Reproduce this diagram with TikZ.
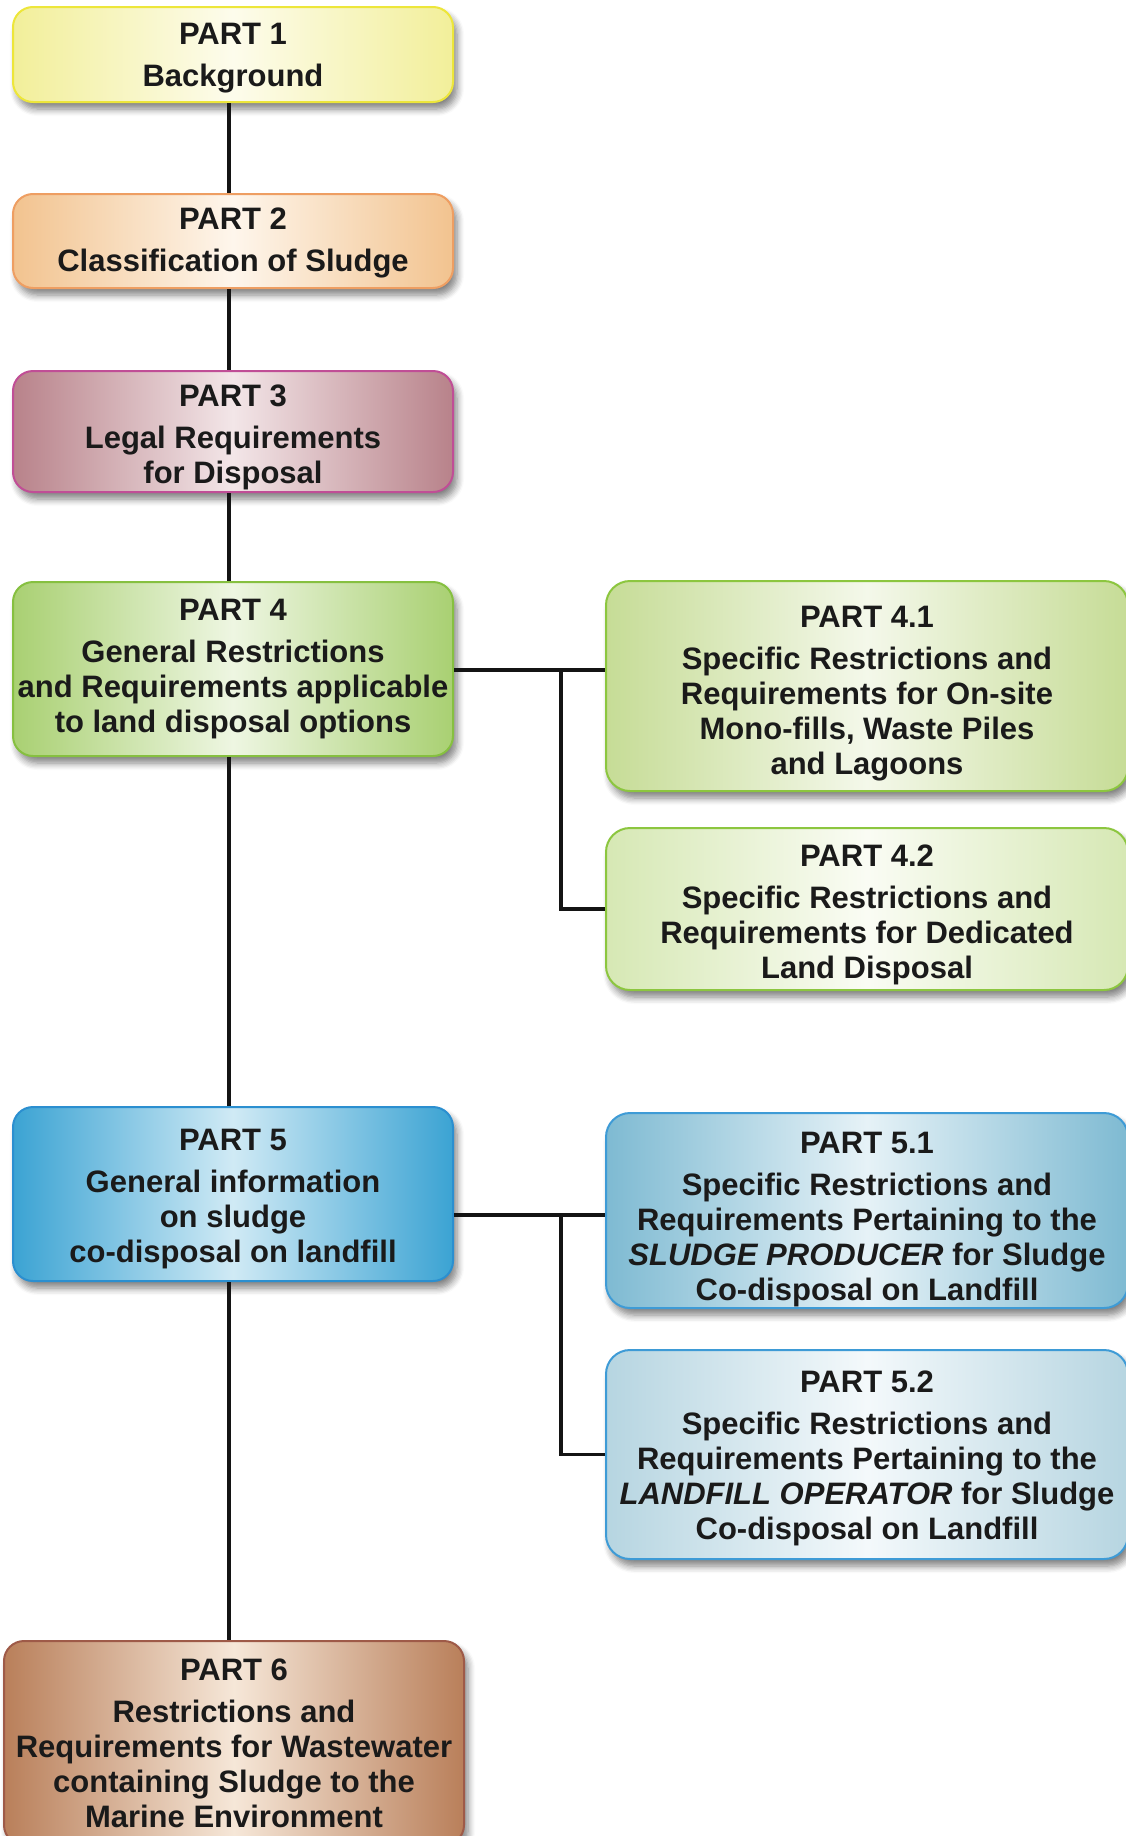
\documentclass[tikz,border=0pt]{standalone}
\usepackage{fontspec}
\setmainfont{Liberation Sans}
\usetikzlibrary{shadows.blur,calc}
\definecolor{txt}{HTML}{1A1A1A}
\definecolor{c1o}{HTML}{F2EF9A}\definecolor{c1m}{HTML}{FDFCEC}\definecolor{c1b}{HTML}{EDE63A}
\definecolor{c2o}{HTML}{F2C38F}\definecolor{c2m}{HTML}{FEF6EC}\definecolor{c2b}{HTML}{EE9E62}
\definecolor{c3o}{HTML}{B8828A}\definecolor{c3m}{HTML}{F3E6E8}\definecolor{c3b}{HTML}{C04E96}
\definecolor{c4o}{HTML}{A9D072}\definecolor{c4m}{HTML}{EEF6E2}\definecolor{c4b}{HTML}{86C040}
\definecolor{c41o}{HTML}{C6DC96}\definecolor{c41m}{HTML}{F4F8EA}\definecolor{c41b}{HTML}{8CC63F}
\definecolor{c42o}{HTML}{D6E8B4}\definecolor{c42m}{HTML}{FAFCF4}
\definecolor{c5o}{HTML}{3BA3D3}\definecolor{c5m}{HTML}{D0EAF5}\definecolor{c5b}{HTML}{2B8FD0}
\definecolor{c51o}{HTML}{7EBAD2}\definecolor{c51m}{HTML}{E6F2F7}\definecolor{c51b}{HTML}{3E9BD6}
\definecolor{c52o}{HTML}{B6D5E1}\definecolor{c52m}{HTML}{F4F9FB}
\definecolor{c6o}{HTML}{B97F5A}\definecolor{c6m}{HTML}{F6E7D8}\definecolor{c6b}{HTML}{9E5A48}
\newcommand{\topstrut}[1]{\rule{0pt}{#1}}
\tikzset{
  box/.style={draw, line width=1pt, rounded corners=10pt, inner sep=0pt, align=center,
    font=\bfseries\fontsize{15.5}{17.5}\selectfont, text=txt,
    blur shadow={shadow xshift=2pt, shadow yshift=-3.5pt, shadow blur steps=6,
      shadow opacity=50, shadow blur radius=3.5pt}},
  rbox/.style={box, rounded corners=12pt, minimum width=261pt},
  lbox/.style={box, minimum width=220pt},
  grad/.style n args={3}{left color=#1, right color=#1, middle color=#2, draw=#3},
  conn/.style={line width=2pt, draw=black!92},
  branch/.style={line width=1.6pt, draw=black!92},
}
\begin{document}
\begin{tikzpicture}[x=0.5pt,y=-0.5pt]
\useasboundingbox (0,0) rectangle (1125,1836);
\node[lbox, grad={c1o}{c1m}{c1b}, minimum height=47.5pt] (p1) at (233,54.5)
  {\topstrut{14.6pt}PART 1\\[3.5pt]Background};
\node[lbox, grad={c2o}{c2m}{c2b}, minimum height=47pt] (p2) at (233,241)
  {\topstrut{12.9pt}PART 2\\[3.5pt]Classification of Sludge};
\node[lbox, grad={c3o}{c3m}{c3b}, minimum height=60.5pt] (p3) at (233,431.5)
  {\topstrut{17pt}PART 3\\[3.5pt]Legal Requirements\\for Disposal};
\node[lbox, grad={c4o}{c4m}{c4b}, minimum height=87pt] (p4) at (233,669)
  {PART 4\\[3.5pt]General Restrictions\\and Requirements applicable\\to land disposal options};
\node[rbox, grad={c41o}{c41m}{c41b}, minimum height=105pt] (p41) at (867,686)
  {\topstrut{18.1pt}PART 4.1\\[3.5pt]Specific Restrictions and\\Requirements for On-site\\Mono-fills, Waste Piles\\and Lagoons};
\node[rbox, grad={c42o}{c42m}{c41b}, minimum height=81pt] (p42) at (867,909)
  {\topstrut{17pt}PART 4.2\\[3.5pt]Specific Restrictions and\\Requirements for Dedicated\\Land Disposal};
\node[lbox, grad={c5o}{c5m}{c5b}, minimum height=87pt] (p5) at (233,1194)
  {\topstrut{15.8pt}PART 5\\[3.5pt]General information\\on sludge\\co-disposal on landfill};
\node[rbox, grad={c51o}{c51m}{c51b}, minimum height=97.5pt] (p51) at (867,1210.5)
  {\topstrut{19.3pt}PART 5.1\\[3.5pt]Specific Restrictions and\\Requirements Pertaining to the\\{\itshape SLUDGE PRODUCER} for Sludge\\Co-disposal on Landfill};
\node[rbox, grad={c52o}{c52m}{c51b}, minimum height=104.5pt] (p52) at (867,1454.5)
  {\topstrut{14.6pt}PART 5.2\\[3.5pt]Specific Restrictions and\\Requirements Pertaining to the\\{\itshape LANDFILL OPERATOR} for Sludge\\Co-disposal on Landfill};
\node[box, grad={c6o}{c6m}{c6b}, minimum width=230pt, minimum height=102pt] (p6) at (234,1743)
  {PART 6\\[3.5pt]Restrictions and\\Requirements for Wastewater\\containing Sludge to the\\Marine Environment};
% connectors
\coordinate (vx) at (229,0);
\coordinate (b4) at (561,670);
\coordinate (b5) at (561,1215);
\draw[conn] (p1.south -| vx) -- (p2.north -| vx);
\draw[conn] (p2.south -| vx) -- (p3.north -| vx);
\draw[conn] (p3.south -| vx) -- (p4.north -| vx);
\draw[conn] (p4.south -| vx) -- (p5.north -| vx);
\draw[conn] (p5.south -| vx) -- (p6.north -| vx);
\draw[conn] (p4.east |- b4) -- (p41.west |- b4);
\draw[branch] (b4) |- (p42.west);
\draw[conn] (p5.east |- b5) -- (p51.west |- b5);
\draw[branch] (b5) |- (p52.west);
\end{tikzpicture}
\end{document}
